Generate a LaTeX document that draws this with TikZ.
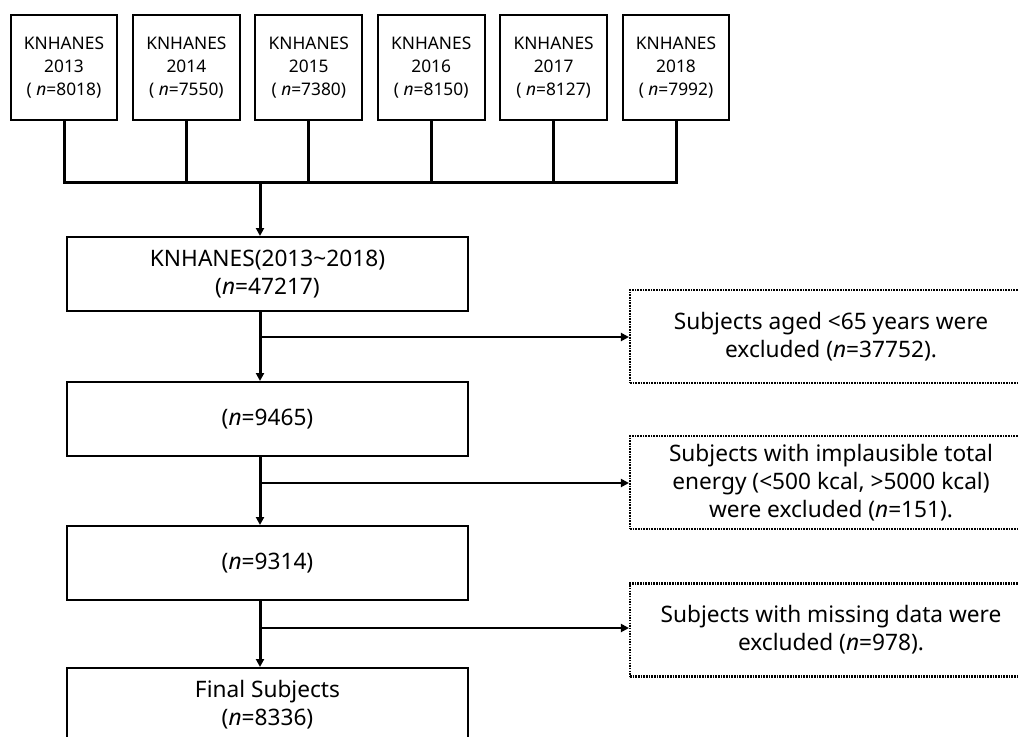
\documentclass[tikz,border=0pt]{standalone}
\usepackage{fontspec}
\setmainfont{Noto Sans}
\usetikzlibrary{arrows.meta}

\begin{document}
\begin{tikzpicture}[x=0.75pt,y=-0.75pt,
  yearbox/.style={draw,line width=1.5pt,minimum width=80pt,minimum height=78.75pt,
    inner sep=0pt,align=center,font=\fontsize{13}{17.5}\selectfont},
  mainbox/.style={draw,line width=1.5pt,minimum width=300.75pt,minimum height=55.5pt,
    inner sep=0pt,align=center,font=\fontsize{17}{21}\selectfont},
  exclbox/.style={draw,line width=1.6pt,dash pattern=on 1.2pt off 0.8pt,minimum width=301.5pt,
    minimum height=69.75pt,inner sep=0pt,align=center,font=\fontsize{17}{21}\selectfont},
  link/.style={line width=2.25pt},
  branch/.style={line width=1.5pt,-{Triangle[length=6pt,width=6pt]}}]
  \useasboundingbox (0,0) rectangle (1019,736);
  \clip (0,0) rectangle (1019,736);

  % yearly surveys
  \foreach \yr/\nn [count=\i from 0] in {2013/8018,2014/7550,2015/7380,2016/8150,2017/8127,2018/7992}
    \node[yearbox] (y\yr) at ({64+122.4*\i},67.5) {KNHANES\\\yr\\( \textit{n}=\nn)};

  \coordinate (bar) at (260,182);
  \draw[link] (y2013.south) |- (bar) -| (y2018.south);
  \foreach \yr in {2014,2015,2016,2017}
    \draw[link] (y\yr.south) -- (y\yr.south |- bar);

  % main flow
  \node[mainbox] (all) at (267.5,274) {KNHANES(2013\textasciitilde2018)\\(\textit{n}=47217)};
  \node[mainbox] (old) at (267.5,419) {(\textit{n}=9465)};
  \node[mainbox] (energy) at (267.5,563) {(\textit{n}=9314)};
  \node[mainbox] (final) at (267.5,705) {Final Subjects\\(\textit{n}=8336)};

  \draw[link,-{Triangle[length=6pt,width=6pt]}] (bar) -- (bar |- all.north);
  \draw[link,-{Triangle[length=6pt,width=6pt]}] (bar |- all.south) -- (bar |- old.north);
  \draw[link,-{Triangle[length=6pt,width=6pt]}] (bar |- old.south) -- (bar |- energy.north);
  \draw[link,-{Triangle[length=6pt,width=6pt]}] (bar |- energy.south) -- (bar |- final.north);

  % exclusions
  \node[exclbox] (ex1) at (831,336.5) {Subjects aged <65 years were\\excluded (\textit{n}=37752).};
  \node[exclbox] (ex2) at (831,482.5) {Subjects with implausible total\\energy (<500 kcal, >5000 kcal)\\were excluded (\textit{n}=151).};
  \node[exclbox] (ex3) at (831,630) {Subjects with missing data were\\excluded (\textit{n}=978).};

  \coordinate (b1) at (260,337);
  \coordinate (b2) at (260,483);
  \coordinate (b3) at (260,628);
  \draw[branch] (b1) -- (b1 -| ex1.west);
  \draw[branch] (b2) -- (b2 -| ex2.west);
  \draw[branch] (b3) -- (b3 -| ex3.west);
\end{tikzpicture}
\end{document}
